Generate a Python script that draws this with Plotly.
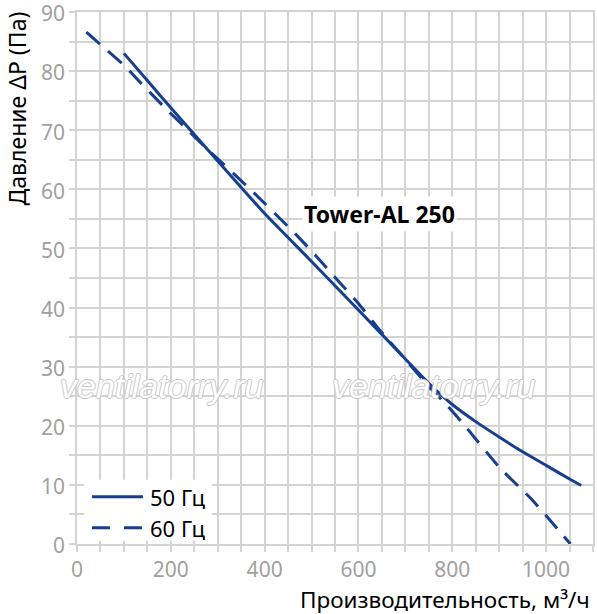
import plotly.graph_objects as go

# 50 Hz curve
flow_50 = [100, 150, 200, 300, 400, 500, 600, 700, 750, 800, 850, 900, 950, 1000, 1050, 1075]
pres_50 = [83, 78.4, 73.8, 64.8, 55.9, 47.8, 39.6, 31.3, 27.2, 23.6, 20.7, 18.1, 15.6, 13.3, 11.0, 9.9]

# 60 Hz curve
flow_60 = [20, 50, 100, 130, 185, 226, 274, 368, 465, 511, 557, 600, 641, 708, 750, 786, 829, 900, 971, 1052]
pres_60 = [86.6, 84.5, 81.0, 78.5, 74.0, 70.8, 67.1, 60.1, 52.5, 48.6, 44.5, 40.7, 36.6, 30.5, 26.6, 23.7, 19.8, 13.0, 7.4, 0.0]

series_names = ["50 Гц", "60 Гц"]
x_ticks = [0, 200, 400, 600, 800, 1000]
y_ticks = [0, 10, 20, 30, 40, 50, 60, 70, 80, 90]

blue = "#173f8f"
grid = "#d3d3d3"
font = "Noto Sans"

fig = go.Figure()
fig.add_trace(go.Scatter(x=flow_50, y=pres_50, mode="lines", name=series_names[0],
                         line=dict(color=blue, width=3, shape="spline", smoothing=0.5)))
fig.add_trace(go.Scatter(x=flow_60, y=pres_60, mode="lines", name=series_names[1],
                         line=dict(color=blue, width=3, dash="18px,11px", shape="spline", smoothing=0.5)))

axis_common = dict(
    showgrid=True, gridcolor=grid, gridwidth=1.5, automargin=False,
    zeroline=False, showline=True, linecolor=grid, linewidth=1.5, mirror=True,
    ticks="outside", ticklen=6, tickcolor=grid, tickwidth=1.5,
    ticklabeloverflow="allow",
    tickfont=dict(family=font, size=21, color="#a0a0a0"),
)

fig.update_xaxes(range=[0, 1100], tickvals=x_ticks,
                 minor=dict(dtick=50, tick0=0, showgrid=True, gridcolor=grid, gridwidth=1.5,
                            ticks="outside", ticklen=6, tickcolor=grid),
                 **axis_common)
fig.update_yaxes(range=[0, 90], tickvals=y_ticks, ticklabelshift=2,
                 minor=dict(dtick=5, tick0=0, showgrid=True, gridcolor=grid, gridwidth=1.5,
                            ticks="outside", ticklen=6, tickcolor=grid),
                 **axis_common)

# watermarks
wm_font = dict(family="Liberation Sans", size=34, color="white",
               style="italic",
               shadow="1px 0 #c8c8c8, -1px 0 #c8c8c8, 0 1px #c8c8c8, 0 -1px #c8c8c8")
for wx in [181, 762]:
    fig.add_annotation(x=wx, y=26.8, text="ventilatorry.ru", showarrow=False,
                       font=wm_font)

fig.add_annotation(x=645, y=55.8, text="<b>Tower-AL 250</b>", showarrow=False,
                   font=dict(family=font, size=23, color="black"), bgcolor="white")

fig.add_annotation(xref="paper", yref="paper", x=-0.116, y=1.005, xanchor="center", yanchor="top",
                   text="Давление ΔP (Па)", textangle=-90, showarrow=False,
                   font=dict(family=font, size=23, color="black"))
fig.add_annotation(xref="paper", yref="paper", x=0.998, y=-0.105, xanchor="right", yanchor="middle",
                   text="Производительность, м³/ч", showarrow=False,
                   font=dict(family=font, size=22.5, color="black"))

# legend box drawn in the lower-left corner of the plot
fig.add_shape(type="rect", xref="paper", yref="paper", x0=0.0136, x1=0.2616, y0=0.006, y1=0.121,
              fillcolor="white", line_width=0, layer="above")
for ly, dash, name in [(0.0888, "solid", series_names[0]), (0.0306, "18px,14px", series_names[1])]:
    fig.add_shape(type="line", xref="paper", yref="paper", x0=0.029, x1=0.128, y0=ly, y1=ly,
                  line=dict(color=blue, width=3, dash=dash), layer="above")
    fig.add_annotation(xref="paper", yref="paper", x=0.1376, y=ly, xanchor="left", yanchor="middle",
                       text=name, showarrow=False, font=dict(family=font, size=22, color="black"))

fig.update_layout(
    width=597, height=614,
    margin=dict(l=77, r=4, t=12, b=70, autoexpand=False),
    plot_bgcolor="white", paper_bgcolor="white",
    showlegend=False,
)

# drop the page's default body margin so the figure sits at the window's corner
fig.write_html("out.html", config={"displayModeBar": False},
               post_script="document.body.style.margin='0';")
